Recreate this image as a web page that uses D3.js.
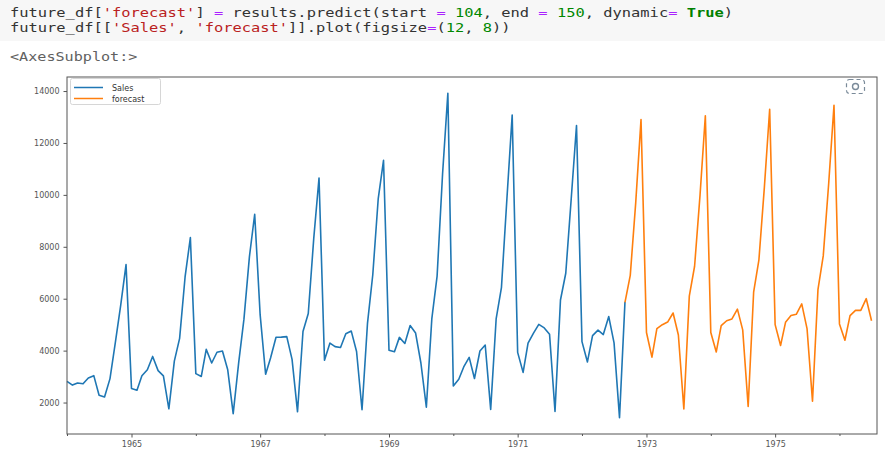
<!DOCTYPE html>
<html>
<head>
<meta charset="utf-8">
<script src="https://cdn.jsdelivr.net/npm/d3@7"></script>
<style>
  body { margin: 0; background: #fff; }
  svg { display: block; }
</style>
</head>
<body>
<svg width="885" height="451"></svg>
<script>
// monthly sales, Jan 1964 .. Sep 1972
const sales = [
  2815, 2672, 2755, 2721, 2946, 3036, 2282, 2212, 2922, 4301, 5764, 7312,
  2541, 2475, 3031, 3266, 3776, 3230, 3028, 1759, 3595, 4474, 6838, 8357,
  3113, 3006, 4047, 3523, 3937, 3986, 3260, 1573, 3528, 5211, 7614, 9254,
  5375, 3088, 3718, 4514, 4520, 4539, 3663, 1643, 4739, 5428, 8314, 10651,
  3633, 4292, 4154, 4121, 4647, 4753, 3965, 1723, 5048, 6922, 9858, 11331,
  4016, 3957, 4510, 4276, 4968, 4677, 3523, 1821, 5222, 6872, 10803, 13916,
  2639, 2899, 3370, 3740, 2927, 3986, 4217, 1738, 5221, 6424, 9842, 13076,
  3934, 3162, 4286, 4676, 5010, 4874, 4633, 1659, 5951, 6981, 9851, 12670,
  4348, 3564, 4577, 4788, 4618, 5312, 4298, 1413, 5877
];
// forecast, Sep 1972 (index 104) .. Jul 1976 (index 150)
const forecastStart = 104;
const forecast = [
  5860, 6900, 9700, 12900,
  4700, 3750, 4850, 5000, 5100, 5450, 4600, 1750, 6100, 7250, 10000, 13050,
  4700, 3950, 4960, 5150, 5220, 5600, 4800, 1850, 6250, 7500, 10300, 13300,
  5000, 4200, 5090, 5350, 5400, 5800, 4850, 2050, 6350, 7650, 10450, 13450,
  5030, 4400, 5350, 5550, 5550, 6000, 5150
];
const yTicks = [2000, 4000, 6000, 8000, 10000, 12000, 14000];
const majorYears = [1965, 1967, 1969, 1971, 1973, 1975];
const minorYears = [1964, 1966, 1968, 1970, 1972, 1974, 1976];
const seriesNames = ["Sales", "forecast"];
const seriesColors = ["#1f77b4", "#ff7f0e"];

const svg = d3.select("svg");
const codeLines = [
  [["future_df[", "#333"], ["'forecast'", "#ba2121"], ["] ", "#333"], ["=", "#aa22ff"], [" results.predict(start ", "#333"], ["=", "#aa22ff"], [" ", "#333"], ["104", "#080"], [", end ", "#333"], ["=", "#aa22ff"], [" ", "#333"], ["150", "#080"], [", dynamic", "#333"], ["=", "#aa22ff"], [" ", "#333"], ["True", "#008000", "bold"], [")", "#333"]],
  [["future_df[[", "#333"], ["'Sales'", "#ba2121"], [", ", "#333"], ["'forecast'", "#ba2121"], ["]].plot(figsize", "#333"], ["=", "#aa22ff"], ["(", "#333"], ["12", "#080"], [", ", "#333"], ["8", "#080"], ["))", "#333"]]
];

// code cell
svg.append("rect").attr("x", 0).attr("y", 0).attr("width", 885).attr("height", 41).attr("fill", "#f7f7f7");
const charW = 9.27;
codeLines.forEach((line, li) => {
  let cx = 10;
  line.forEach(([txt, col, weight]) => {
    if (txt.trim() !== "") {
      svg.append("text")
        .attr("x", cx).attr("y", 17 + li * 15)
        .attr("font-family", "DejaVu Sans Mono, monospace")
        .attr("font-size", 12.5)
        .attr("font-weight", weight || "normal")
        .attr("fill", col)
        .attr("textLength", txt.length * charW)
        .attr("lengthAdjust", "spacingAndGlyphs")
        .style("white-space", "pre")
        .text(txt);
    }
    cx += txt.length * charW;
  });
});
svg.append("text")
  .attr("x", 10).attr("y", 61)
  .attr("font-family", "DejaVu Sans Mono, monospace")
  .attr("font-size", 12)
  .attr("fill", "#616161")
  .attr("textLength", 14 * 9.1)
  .attr("lengthAdjust", "spacingAndGlyphs")
  .text("<AxesSubplot:>");

// plot
const pLeft = 67, pRight = 877, pTop = 77, pBottom = 434;
const x = d3.scaleTime()
  .domain([new Date(1964, 0, 1), new Date(1976, 7, 1)])
  .range([pLeft, pRight]);
const y = d3.scaleLinear().domain([788, 14541]).range([pBottom, pTop]);
const monthDate = (i) => new Date(1964, i, 1);

const g = svg.append("g");

const line = d3.line()
  .x((d) => x(monthDate(d.i)))
  .y((d) => y(d.v));

const salesData = sales.map((v, i) => ({ i, v }));
const forecastData = forecast.map((v, k) => ({ i: forecastStart + k, v }));

g.append("path").datum(salesData)
  .attr("d", line).attr("fill", "none")
  .attr("stroke", seriesColors[0]).attr("stroke-width", 1.6)
  .attr("stroke-linejoin", "round");
g.append("path").datum(forecastData)
  .attr("d", line).attr("fill", "none")
  .attr("stroke", seriesColors[1]).attr("stroke-width", 1.6)
  .attr("stroke-linejoin", "round");

// axes
const yAxis = d3.axisLeft(y).tickValues(yTicks).tickSize(3.5).tickPadding(4).tickFormat(d3.format("d"));
const yg = svg.append("g").attr("transform", `translate(${pLeft},0)`).call(yAxis);
const xAxis = d3.axisBottom(x)
  .tickValues(majorYears.map((yr) => new Date(yr, 0, 1)))
  .tickSize(3.5).tickPadding(4)
  .tickFormat(d3.timeFormat("%Y"));
const xg = svg.append("g").attr("transform", `translate(0,${pBottom})`).call(xAxis);
const xMinor = d3.axisBottom(x)
  .tickValues(minorYears.map((yr) => new Date(yr, 0, 1)).filter((d) => x(d) <= pRight))
  .tickSize(2).tickFormat("");
const xmg = svg.append("g").attr("transform", `translate(0,${pBottom})`).call(xMinor);
[yg, xg, xmg].forEach((a) => a.select(".domain").remove());
[yg, xg, xmg].forEach((a) => {
  a.selectAll("line").attr("stroke", "#555");
  a.selectAll("text").attr("font-family", "DejaVu Sans, sans-serif").attr("font-size", 8).attr("fill", "#555");
});

svg.append("rect")
  .attr("x", pLeft).attr("y", pTop)
  .attr("width", pRight - pLeft).attr("height", pBottom - pTop)
  .attr("fill", "none").attr("stroke", "#555").attr("stroke-width", 1);

// legend
const lg = svg.append("g");
lg.append("rect").attr("x", 70.5).attr("y", 78.5).attr("width", 90).attr("height", 26)
  .attr("rx", 2).attr("fill", "#fff").attr("fill-opacity", 0.8).attr("stroke", "#d6d6d6");
seriesNames.forEach((name, k) => {
  const ly = 87.5 + k * 11;
  lg.append("line").attr("x1", 74).attr("x2", 103).attr("y1", ly).attr("y2", ly)
    .attr("stroke", seriesColors[k]).attr("stroke-width", 1.5);
  lg.append("text").attr("x", 112).attr("y", ly + 3)
    .attr("font-family", "DejaVu Sans, sans-serif").attr("font-size", 8).attr("fill", "#333")
    .text(name);
});

// expand icon
const ic = svg.append("g");
ic.append("rect").attr("x", 846.5).attr("y", 79.5).attr("width", 18).attr("height", 14).attr("rx", 3)
  .attr("fill", "none").attr("stroke", "#7a8a99").attr("stroke-width", 1.2).attr("stroke-dasharray", "4 3");
ic.append("circle").attr("cx", 855.5).attr("cy", 86.5).attr("r", 3)
  .attr("fill", "none").attr("stroke", "#7a8a99").attr("stroke-width", 1.4);
</script>
</body>
</html>
